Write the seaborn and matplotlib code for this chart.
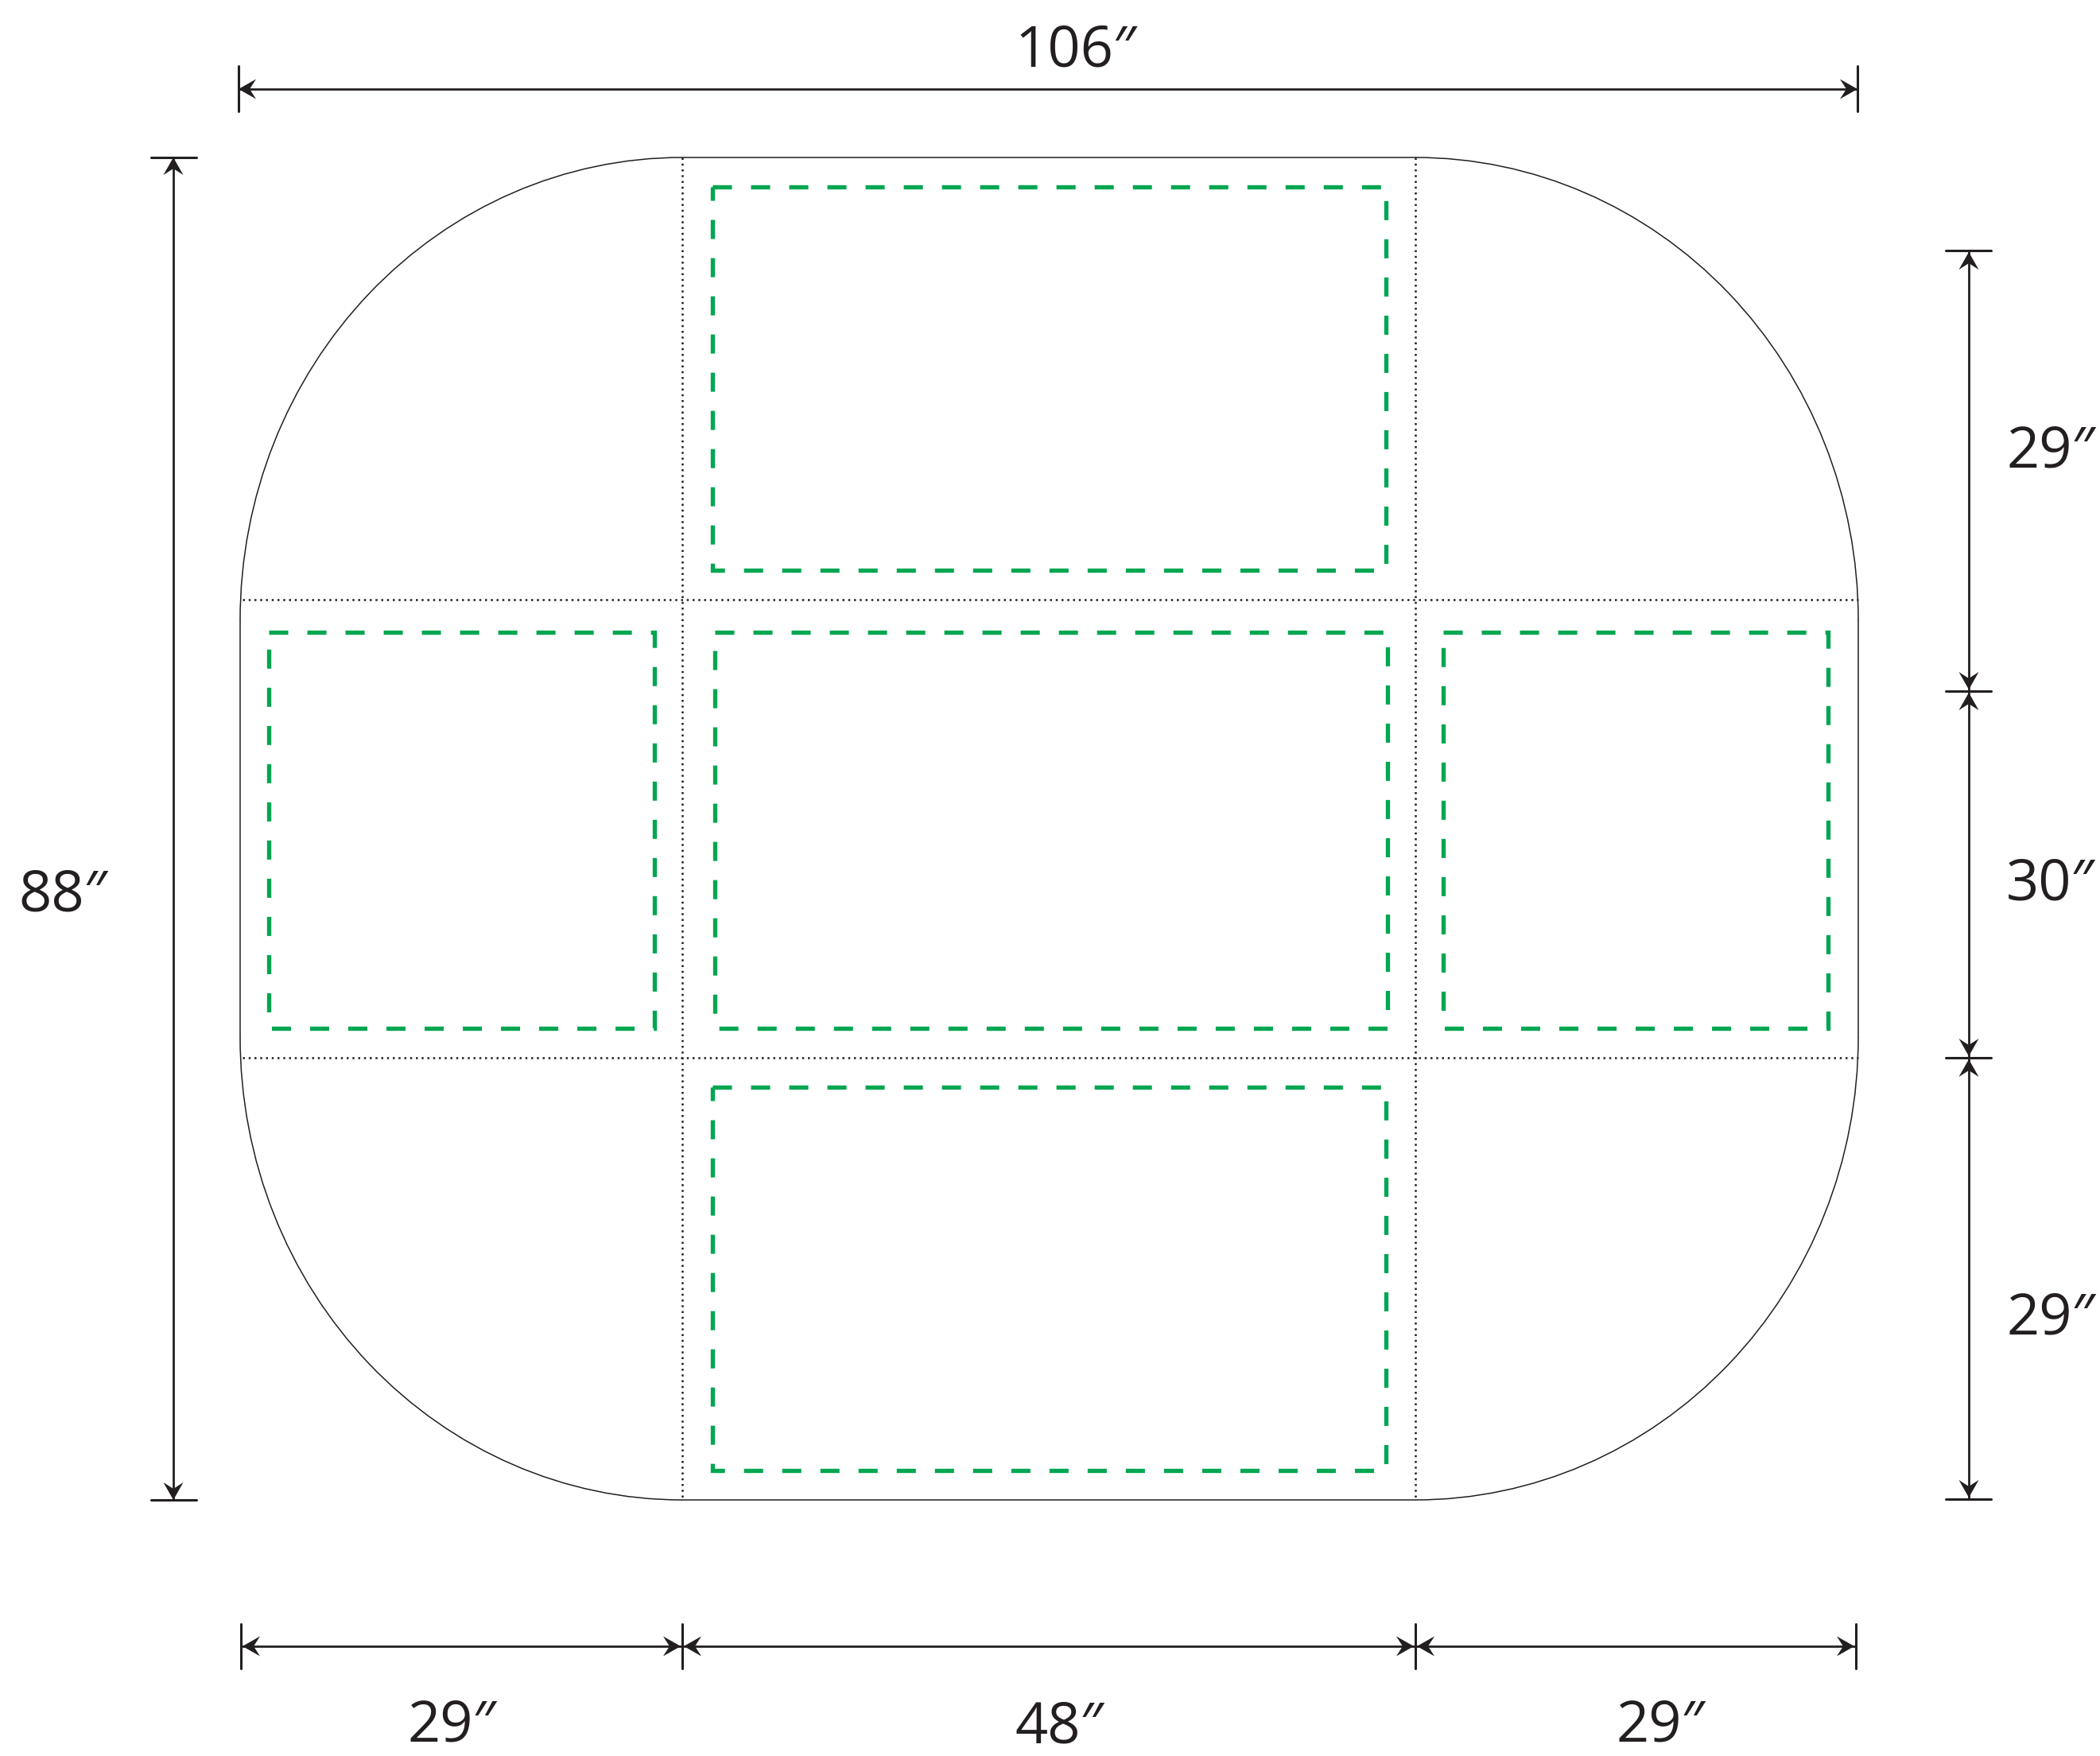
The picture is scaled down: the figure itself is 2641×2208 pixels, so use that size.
import matplotlib
matplotlib.use("Agg")
import matplotlib.pyplot as plt
from matplotlib.patches import Arc
import seaborn as sns

# everything is in reference pixels, y grows downward
OUT_LEFT, OUT_RIGHT = 302, 2337
OUT_TOP, OUT_BOTTOM = 198, 1886
COL_X = [858, 1780]
ROW_Y = [754, 1330]
ARC_TOP_Y, ARC_BOTTOM_Y = 780, 1304

# green panels: top, left, centre, right, bottom
PANEL_LEFT = [896, 338, 899, 1815, 896]
PANEL_RIGHT = [1743, 823, 1745, 2299, 1743]
PANEL_TOP = [235, 795, 795, 795, 1367]
PANEL_BOTTOM = [717, 1293, 1293, 1293, 1849]

# dimension lines
TOP_DIM_Y = 112
TOP_DIM_X = [300, 2336]
LEFT_DIM_X = 218
LEFT_DIM_Y = [198, 1886]
RIGHT_DIM_X = 2476
RIGHT_DIM_Y = [315, 869, 1330, 1885]
BOTTOM_DIM_Y = 2070
BOTTOM_DIM_X = [303, 858, 1780, 2334]

LABELS = ["106″", "88″", "29″", "30″", "29″", "29″", "48″", "29″"]
LABEL_X = [1353, 79, 2579, 2579, 2579, 568, 1332, 2088]
LABEL_BASE = [83, 1146, 588, 1131, 1678, 2189, 2192, 2189]

INK = "#231F20"
GREEN = "#00A651"

sns.set_theme(style="white")
plt.rcParams["font.family"] = ["Open Sans", "Noto Sans", "DejaVu Sans"]

fig = plt.figure(figsize=(26.41, 22.08), dpi=100)
ax = fig.add_axes([0, 0, 1, 1])


def line(xs, ys, color=INK, lw=2.0, **kw):
    sns.lineplot(x=xs, y=ys, ax=ax, sort=False, estimator=None, errorbar=None,
                 color=color, linewidth=lw, **kw)


def arrow_head(x, y, dx, dy):
    # stealth head, tip on (x, y), pointing along (dx, dy)
    px, py = -dy, dx
    along = [0, 22, 14, 22]
    across = [0, 12.5, 0, -12.5]
    xs = [x - dx * a + px * c for a, c in zip(along, across)]
    ys = [y - dy * a + py * c for a, c in zip(along, across)]
    ax.fill(xs, ys, color=INK, linewidth=0, zorder=4)


# outline: four straight sides and four elliptical corners
line([COL_X[0], COL_X[1]], [OUT_TOP, OUT_TOP], lw=1.1)
line([COL_X[0], COL_X[1]], [OUT_BOTTOM, OUT_BOTTOM], lw=1.1)
line([OUT_LEFT, OUT_LEFT], [ARC_TOP_Y, ARC_BOTTOM_Y], lw=1.1)
line([OUT_RIGHT, OUT_RIGHT], [ARC_TOP_Y, ARC_BOTTOM_Y], lw=1.1)
left_w = 2 * (COL_X[0] - OUT_LEFT)
right_w = 2 * (OUT_RIGHT - COL_X[1])
top_h = 2 * (ARC_TOP_Y - OUT_TOP)
bottom_h = 2 * (OUT_BOTTOM - ARC_BOTTOM_Y)
# y axis is inverted, so arc angles run clockwise on screen
for cx, cy, w, h, a0 in [
    (COL_X[0], ARC_TOP_Y, left_w, top_h, 180),
    (COL_X[1], ARC_TOP_Y, right_w, top_h, 270),
    (COL_X[1], ARC_BOTTOM_Y, right_w, bottom_h, 0),
    (COL_X[0], ARC_BOTTOM_Y, left_w, bottom_h, 90),
]:
    ax.add_patch(Arc((cx, cy), w, h, theta1=a0, theta2=a0 + 90, color=INK, lw=1.1))

# fold lines
for x in COL_X:
    line([x, x], [OUT_TOP, OUT_BOTTOM], lw=1.8, linestyle=(0, (1, 1.9)))
for y in ROW_Y:
    line([OUT_LEFT + 3, OUT_RIGHT], [y, y], lw=1.8, linestyle=(0, (1, 1.9)))

# green dashed panels, 24 px on / 24 px off, clockwise from the top left corner
for l, r, t, b in zip(PANEL_LEFT, PANEL_RIGHT, PANEL_TOP, PANEL_BOTTOM):
    line([l, r, r, l, l], [t, t, b, b, t], color=GREEN, lw=3.85,
         linestyle=(0, (4.49, 4.49)), dash_capstyle="butt", dash_joinstyle="miter")

# top dimension
line(TOP_DIM_X, [TOP_DIM_Y, TOP_DIM_Y])
for x, d in zip(TOP_DIM_X, [-1, 1]):
    line([x, x], [TOP_DIM_Y - 29, TOP_DIM_Y + 28], lw=2.2)
    arrow_head(x, TOP_DIM_Y, d, 0)

# left dimension
line([LEFT_DIM_X, LEFT_DIM_X], LEFT_DIM_Y)
for y, d in zip(LEFT_DIM_Y, [-1, 1]):
    line([LEFT_DIM_X - 28, LEFT_DIM_X + 29], [y, y], lw=2.2)
    arrow_head(LEFT_DIM_X, y, 0, d)

# right dimension, three spans
line([RIGHT_DIM_X, RIGHT_DIM_X], [RIGHT_DIM_Y[0], RIGHT_DIM_Y[-1]])
for y in RIGHT_DIM_Y:
    line([RIGHT_DIM_X - 29, RIGHT_DIM_X + 28], [y, y], lw=2.2)
for y0, y1 in zip(RIGHT_DIM_Y[:-1], RIGHT_DIM_Y[1:]):
    arrow_head(RIGHT_DIM_X, y0 + 2, 0, -1)
    arrow_head(RIGHT_DIM_X, y1 - 2, 0, 1)

# bottom dimension, three spans
line(BOTTOM_DIM_X[:2], [BOTTOM_DIM_Y, BOTTOM_DIM_Y])
line(BOTTOM_DIM_X[1:3], [BOTTOM_DIM_Y, BOTTOM_DIM_Y])
line(BOTTOM_DIM_X[2:], [BOTTOM_DIM_Y, BOTTOM_DIM_Y])
for x in BOTTOM_DIM_X:
    line([x, x], [BOTTOM_DIM_Y - 28, BOTTOM_DIM_Y + 28], lw=2.2)
for x0, x1 in zip(BOTTOM_DIM_X[:-1], BOTTOM_DIM_X[1:]):
    arrow_head(x0 + 2, BOTTOM_DIM_Y, -1, 0)
    arrow_head(x1 - 2, BOTTOM_DIM_Y, 1, 0)

for text, x, y in zip(LABELS, LABEL_X, LABEL_BASE):
    ax.text(x, y, text, ha="center", va="baseline", fontsize=52, color=INK)

ax.set_xlim(0, 2641)
ax.set_ylim(2208, 0)
ax.axis("off")
fig.savefig("out.png", dpi=100, facecolor="white")
